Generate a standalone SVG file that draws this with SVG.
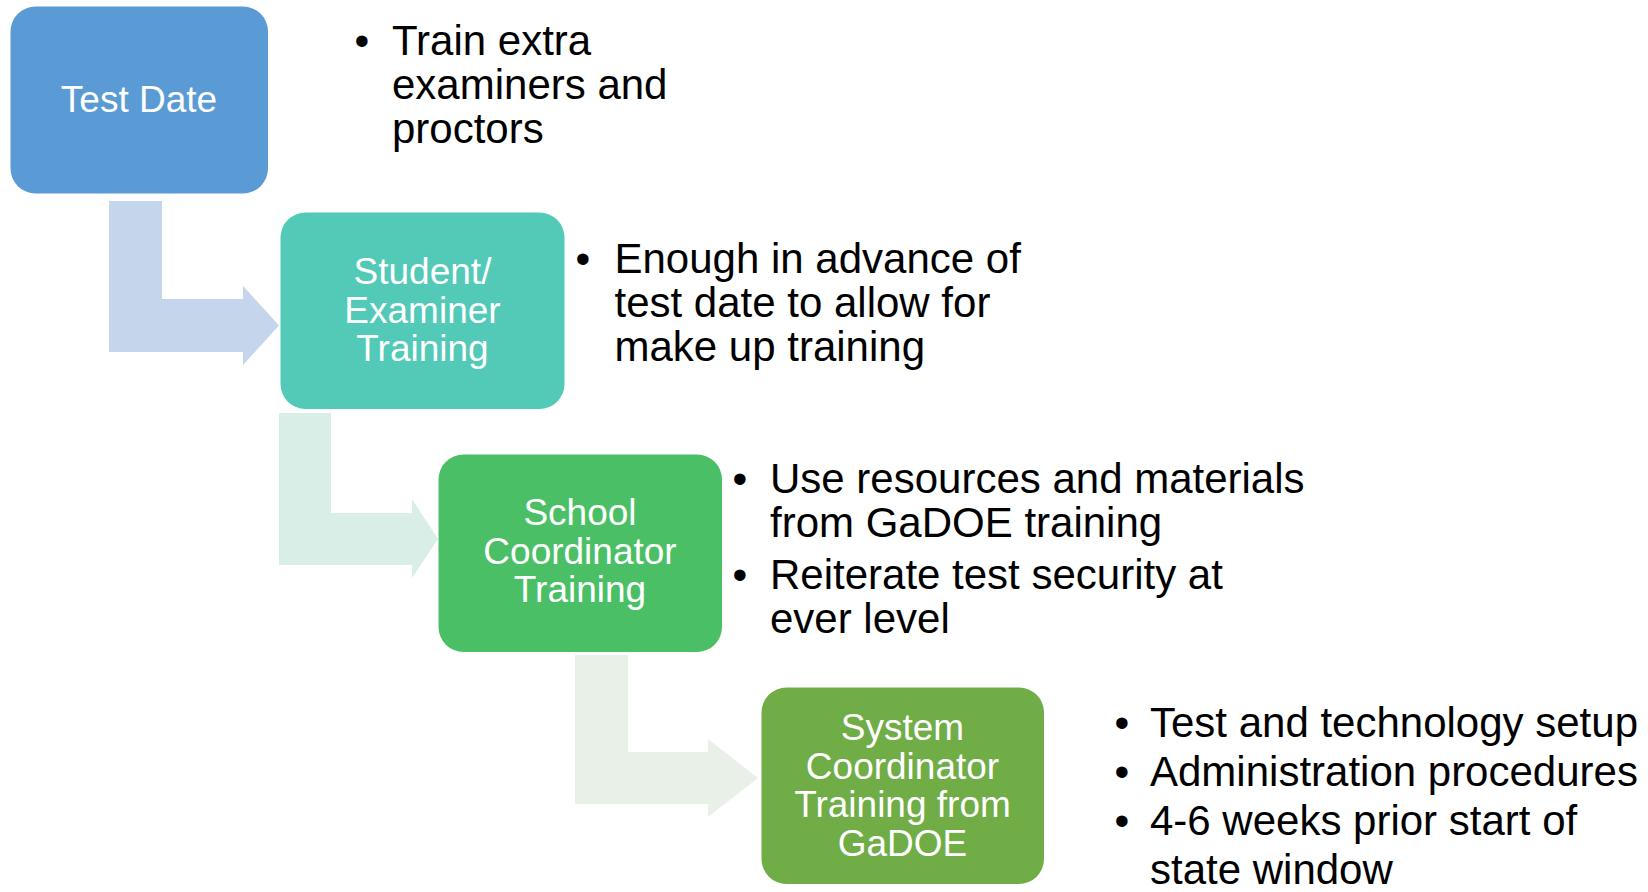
<svg xmlns="http://www.w3.org/2000/svg" width="1648" height="892" viewBox="0 0 1648 892">
<style>
.box-text{font-family:"Liberation Sans",Arial,sans-serif;font-size:37px;fill:#FFFFFF;text-anchor:middle}
.bul{font-family:"Liberation Sans",Arial,sans-serif;font-size:42px;fill:#000000}
</style>
<rect width="1648" height="892" fill="#FFFFFF"/>
<g id="connectors">
<path d="M109,201 H162 V299 H243 V286 L279,325.5 L243,365 V352 H109 Z" fill="#C5D5EB"/>
<path d="M279,413 H331 V513 H412 V499 L438,539 L412,578 V565 H279 Z" fill="#D9EEE6"/>
<path d="M575,655 H628 V752 H708 V739 L758,778 L708,817 V804 H575 Z" fill="#E8F0E7"/>
</g>
<g id="node-test-date">
<rect x="10.5" y="6.5" width="257.5" height="187" rx="25" fill="#5B9BD5"/>
<text class="box-text" x="139" y="112">Test Date</text>
</g>
<g id="node-student-examiner">
<rect x="280.5" y="212.5" width="284" height="196.5" rx="25" fill="#53C9B7"/>
<text class="box-text" x="422.5" y="284">Student/</text>
<text class="box-text" x="422.5" y="322.5">Examiner</text>
<text class="box-text" x="422.5" y="361">Training</text>
</g>
<g id="node-school-coordinator">
<rect x="438.5" y="454.5" width="283.5" height="197.5" rx="25" fill="#4BBF66"/>
<text class="box-text" x="580" y="525">School</text>
<text class="box-text" x="580" y="563.5">Coordinator</text>
<text class="box-text" x="580" y="602">Training</text>
</g>
<g id="node-system-coordinator">
<rect x="761.5" y="687.5" width="282.5" height="196.5" rx="25" fill="#70AD47"/>
<text class="box-text" x="902.5" y="740">System</text>
<text class="box-text" x="902.5" y="778.5">Coordinator</text>
<text class="box-text" x="902.5" y="817">Training from</text>
<text class="box-text" x="902.5" y="855.5">GaDOE</text>
</g>
<g id="notes-test-date">
<text class="bul" x="354.6" y="55">•</text>
<text class="bul" x="392" y="55">Train extra</text>
<text class="bul" x="392" y="99">examiners and</text>
<text class="bul" x="392" y="142.5">proctors</text>
</g>
<g id="notes-student-examiner">
<text class="bul" x="575.5" y="273">•</text>
<text class="bul" x="614.5" y="273">Enough in advance of</text>
<text class="bul" x="614.5" y="317">test date to allow for</text>
<text class="bul" x="614.5" y="361">make up training</text>
</g>
<g id="notes-school-coordinator">
<text class="bul" x="732.5" y="493">•</text>
<text class="bul" x="770" y="493">Use resources and materials</text>
<text class="bul" x="770" y="537">from GaDOE training</text>
<text class="bul" x="732.5" y="589">•</text>
<text class="bul" x="770" y="589">Reiterate test security at</text>
<text class="bul" x="770" y="633">ever level</text>
</g>
<g id="notes-system-coordinator">
<text class="bul" x="1114.5" y="737">•</text>
<text class="bul" x="1150" y="737">Test and technology setup</text>
<text class="bul" x="1114.5" y="786">•</text>
<text class="bul" x="1150" y="786">Administration procedures</text>
<text class="bul" x="1114.5" y="835">•</text>
<text class="bul" x="1150" y="835">4-6 weeks prior start of</text>
<text class="bul" x="1150" y="884">state window</text>
</g>
</svg>
